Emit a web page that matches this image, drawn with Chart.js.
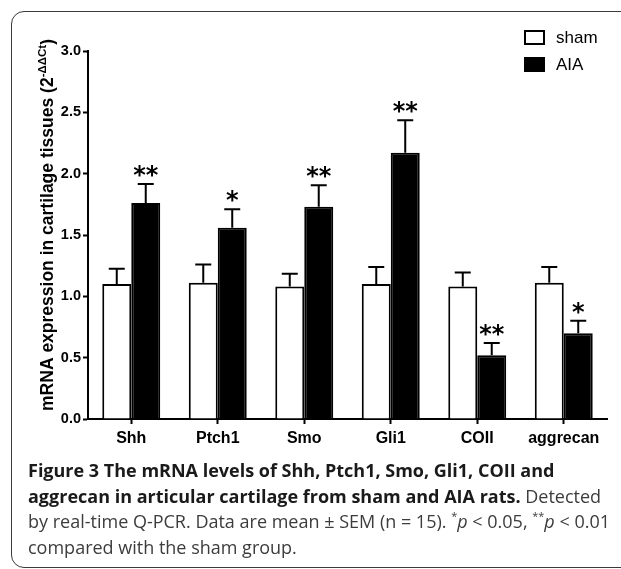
<!DOCTYPE html>
<html><head><meta charset="utf-8">
<script src="https://cdn.jsdelivr.net/npm/chart.js@4/dist/chart.umd.min.js"></script>
<style>
html,body{margin:0;padding:0;background:#fff;width:621px;height:569px;overflow:hidden;}
#chart{position:absolute;left:0;top:0;}
#frame{position:absolute;left:11px;top:11px;width:660px;height:557px;border:1.5px solid #3a3a3a;border-radius:13px;box-sizing:border-box;pointer-events:none;}
#caption{position:absolute;left:28px;top:458px;font-family:"Open Sans";font-size:18px;line-height:25.5px;color:#3c3c3c;white-space:nowrap;}
#caption b{color:#1a1a1a;}
#caption .sp{font-size:11px;position:relative;top:-8px;line-height:0;}
</style></head>
<body>
<canvas id="chart" width="621" height="450"></canvas>
<div id="frame"></div>
<div id="caption"><b>Figure 3 The mRNA levels of Shh, Ptch1, Smo, Gli1, COII and</b><br><b>aggrecan in articular cartilage from sham and AIA rats.</b> Detected<br>by real-time Q-PCR. Data are mean ± SEM (n = 15). <span class="sp">*</span><i>p</i> &lt; 0.05, <span class="sp">**</span><i>p</i> &lt; 0.01<br>compared with the sham group.</div>
<script>
const categories = ['Shh', 'Ptch1', 'Smo', 'Gli1', 'COII', 'aggrecan'];
const shamMean = [1.10, 1.11, 1.08, 1.10, 1.08, 1.11];
const shamSem = [0.125, 0.15, 0.105, 0.14, 0.115, 0.13];
const aiaMean = [1.76, 1.56, 1.73, 2.17, 0.52, 0.70];
const aiaSem = [0.155, 0.15, 0.175, 0.265, 0.10, 0.10];
const aiaStars = ['**', '*', '**', '**', '**', '*'];
const yTicks = [0, 0.5, 1.0, 1.5, 2.0, 2.5, 3.0];
const seriesNames = ['sham', 'AIA'];

const errPlugin = {
  id: 'errbars',
  afterDatasetsDraw(chart) {
    const ctx = chart.ctx, ys = chart.scales.y;
    chart.data.datasets.forEach((ds, di) => {
      const meta = chart.getDatasetMeta(di);
      meta.data.forEach((bar, i) => {
        const top = bar.y;
        const e = ys.getPixelForValue(ds.data[i] + ds.sem[i]);
        ctx.save();
        ctx.strokeStyle = '#000';
        ctx.lineWidth = 2;
        ctx.beginPath();
        ctx.moveTo(bar.x, top); ctx.lineTo(bar.x, e);
        ctx.moveTo(bar.x - 8, e); ctx.lineTo(bar.x + 8, e);
        ctx.stroke();
        if (ds.stars && ds.stars[i]) {
          ctx.fillStyle = '#000';
          ctx.font = 'bold 24px "DejaVu Sans"';
          ctx.textAlign = 'center';
          ctx.textBaseline = 'alphabetic';
          ctx.fillText(ds.stars[i], bar.x, e - 1);
        }
        ctx.restore();
      });
    });
  }
};

const decorPlugin = {
  id: 'decor',
  afterDraw(chart) {
    const ctx = chart.ctx, a = chart.chartArea;
    ctx.save();
    chart.data.datasets.forEach((ds, i) => {
      const bx = a.right - 83, by = a.top - 21 + i * 27;
      ctx.lineWidth = 2;
      ctx.strokeStyle = '#000';
      ctx.fillStyle = ds.backgroundColor;
      ctx.fillRect(bx, by, 21, 15);
      ctx.strokeRect(bx + 1, by + 1, 19, 13);
      ctx.fillStyle = '#000';
      ctx.font = '17px "Liberation Sans"';
      ctx.textBaseline = 'middle';
      ctx.textAlign = 'left';
      ctx.fillText(ds.label, bx + 32, by + 8);
    });
    ctx.restore();
    ctx.save();
    const t1 = 'mRNA expression in cartilage tissues (2', t2 = '-\u0394\u0394Ct', t3 = ')';
    const f1 = 'bold 17.5px "Liberation Sans"', f2 = 'bold 11.5px "Liberation Sans"';
    ctx.font = f1; const w1 = ctx.measureText(t1).width, w3 = ctx.measureText(t3).width;
    ctx.font = f2; const w2 = ctx.measureText(t2).width;
    const total = w1 + w2 + w3;
    ctx.translate(46, 225);
    ctx.rotate(-Math.PI / 2);
    ctx.fillStyle = '#000';
    ctx.textBaseline = 'alphabetic';
    ctx.textAlign = 'left';
    let x = -total / 2;
    ctx.font = f1; ctx.fillText(t1, x, 7); x += w1;
    ctx.font = f2; ctx.fillText(t2, x, -0.5); x += w2;
    ctx.font = f1; ctx.fillText(t3, x, 7);
    ctx.restore();
  }
};

new Chart(document.getElementById('chart'), {
  type: 'bar',
  data: {
    labels: categories,
    datasets: [
      { label: seriesNames[0], data: shamMean, sem: shamSem, backgroundColor: '#ffffff', borderColor: '#000', borderWidth: 2 },
      { label: seriesNames[1], data: aiaMean, sem: aiaSem, stars: aiaStars, backgroundColor: '#000000', borderColor: '#000', borderWidth: 2 }
    ]
  },
  options: {
    responsive: false,
    animation: false,
    devicePixelRatio: 1,
    layout: { padding: { top: 51, right: 14, left: 0, bottom: 0 } },
    plugins: { legend: { display: false }, tooltip: { enabled: false } },
    datasets: { bar: { categoryPercentage: 0.67, barPercentage: 1 } },
    scales: {
      x: {
        offset: true,
        grid: { offset: false, drawOnChartArea: false, drawTicks: true, tickLength: 5, tickColor: '#000', tickWidth: 2 },
        border: { display: true, color: '#000', width: 2 },
        ticks: { color: '#000', font: { family: 'Liberation Sans', size: 16, weight: 'bold' }, padding: 5, maxRotation: 0, autoSkip: false },
        afterFit(s) { s.height = 31; }
      },
      y: {
        min: 0, max: 3,
        grid: { drawOnChartArea: false, drawTicks: true, tickLength: 5, tickColor: '#000', tickWidth: 2 },
        border: { display: true, color: '#000', width: 2 },
        ticks: { color: '#000', font: { family: 'Liberation Sans', size: 14.5, weight: 'bold' }, padding: 2, callback: v => Number(v).toFixed(1) },
        afterBuildTicks(s) { s.ticks = yTicks.map(v => ({ value: v })); },
        afterFit(s) { s.width = 88; }
      }
    }
  },
  plugins: [errPlugin, decorPlugin]
});
</script>
</body></html>
